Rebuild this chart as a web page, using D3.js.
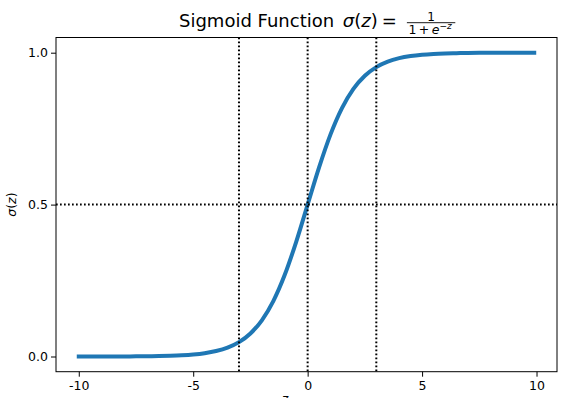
<!DOCTYPE html>
<html>
<head>
<meta charset="utf-8">
<script src="https://cdn.jsdelivr.net/npm/d3@7"></script>
<style>
  html, body { margin: 0; padding: 0; background: #fff; }
  svg { display: block; font-family: 'DejaVu Sans', sans-serif; }
  .axis path, .axis line { stroke: #000; }
  .axis text { fill: #000; }
</style>
</head>
<body>
<svg id="chart" width="575" height="398"></svg>
<script>
const zValues = [-10, -9.5, -9, -8.5, -8, -7.5, -7, -6.5, -6, -5.5, -5, -4.5, -4, -3.5, -3, -2.5, -2, -1.5, -1, -0.5,
  0, 0.5, 1, 1.5, 2, 2.5, 3, 3.5, 4, 4.5, 5, 5.5, 6, 6.5, 7, 7.5, 8, 8.5, 9, 9.5, 9.9];
const sigmaValues = [0.0000, 0.0001, 0.0001, 0.0002, 0.0003, 0.0006, 0.0009, 0.0015, 0.0025, 0.0041, 0.0067, 0.0110,
  0.0180, 0.0293, 0.0474, 0.0759, 0.1192, 0.1824, 0.2689, 0.3775, 0.5, 0.6225, 0.7311, 0.8176, 0.8808, 0.9241,
  0.9526, 0.9707, 0.9820, 0.9890, 0.9933, 0.9959, 0.9975, 0.9985, 0.9991, 0.9994, 0.9997, 0.9998, 0.9999, 0.9999, 1.0];

const vLines = [-3, 0, 3];
const hLines = [0.5];

const xTicks = [-10, -5, 0, 5, 10];
const xTickLabels = ['-10', '-5', '0', '5', '10'];
const yTicks = [0, 0.5, 1];
const yTickLabels = ['0.0', '0.5', '1.0'];

const c = {
  width: 575,
  height: 398,
  margin: { left: 56, right: 18, top: 37.5, bottom: 26.3 },
  color: '#1f77b4',
  fontSize: 12.5,
};

const data = zValues.map((z, i) => ({ z, s: sigmaValues[i] }));

const svg = d3.select('#chart');

// matplotlib style 5% padding around the data
const xPad = (d3.max(zValues) - d3.min(zValues)) * 0.05;
const yPad = (d3.max(sigmaValues) - d3.min(sigmaValues)) * 0.05;

const x = d3.scaleLinear(
  [d3.min(zValues) - xPad, d3.max(zValues) + xPad],
  [c.margin.left, c.width - c.margin.right]
);
const y = d3.scaleLinear(
  [d3.min(sigmaValues) - yPad, d3.max(sigmaValues) + yPad],
  [c.height - c.margin.bottom, c.margin.top]
);

const [x0, x1] = x.range();
const [yb, yt] = y.range();

// curve
const line = d3.line()
  .x((d) => x(d.z))
  .y((d) => y(d.s))
  .curve(d3.curveMonotoneX);

svg.append('path')
  .datum(data)
  .attr('d', line)
  .attr('fill', 'none')
  .attr('stroke', c.color)
  .attr('stroke-width', 4)
  .attr('stroke-linecap', 'square')
  .attr('stroke-linejoin', 'round');

// dotted guides
svg.selectAll('line.vguide')
  .data(vLines)
  .join('line')
  .classed('vguide', true)
  .attr('x1', (d) => x(d))
  .attr('x2', (d) => x(d))
  .attr('y1', yt)
  .attr('y2', yb);

svg.selectAll('line.hguide')
  .data(hLines)
  .join('line')
  .classed('hguide', true)
  .attr('x1', x0)
  .attr('x2', x1)
  .attr('y1', (d) => y(d))
  .attr('y2', (d) => y(d));

svg.selectAll('line.vguide, line.hguide')
  .attr('stroke', '#000')
  .attr('stroke-width', 2)
  .attr('stroke-dasharray', '1.7 2.3');

// axes
const xAxis = d3.axisBottom(x)
  .tickValues(xTicks)
  .tickFormat((d, i) => xTickLabels[i])
  .tickSizeInner(5)
  .tickSizeOuter(0)
  .tickPadding(4);

const yAxis = d3.axisLeft(y)
  .tickValues(yTicks)
  .tickFormat((d, i) => yTickLabels[i])
  .tickSizeInner(5)
  .tickSizeOuter(0)
  .tickPadding(3);

svg.append('g')
  .classed('axis', true)
  .attr('transform', `translate(0,${yb})`)
  .call(xAxis);

svg.append('g')
  .classed('axis', true)
  .attr('transform', `translate(${x0},0)`)
  .call(yAxis);

svg.selectAll('.axis text')
  .attr('font-size', c.fontSize)
  .attr('font-family', 'DejaVu Sans');
svg.selectAll('.axis .domain').remove();

// frame
svg.append('rect')
  .attr('x', x0)
  .attr('y', yt)
  .attr('width', x1 - x0)
  .attr('height', yb - yt)
  .attr('fill', 'none')
  .attr('stroke', '#000')
  .attr('stroke-width', 1);

// y label
const yl = svg.append('text')
  .attr('transform', `translate(16,${(yt + yb) / 2}) rotate(-90)`)
  .attr('text-anchor', 'middle')
  .attr('font-size', c.fontSize)
  .attr('fill', '#000');
yl.append('tspan').attr('font-style', 'italic').text('σ');
yl.append('tspan').text('(');
yl.append('tspan').attr('font-style', 'italic').text('z');
yl.append('tspan').text(')');

// x label, mostly clipped by the bottom edge (as in the original)
svg.append('text')
  .attr('x', 285)
  .attr('y', 403)
  .attr('text-anchor', 'middle')
  .attr('font-size', c.fontSize)
  .attr('font-style', 'italic')
  .attr('fill', '#000')
  .text('z');

// title with fraction
const title = svg.append('g').attr('transform', 'translate(179,26.5)');
const tMain = title.append('text').attr('font-size', 18).attr('fill', '#000');
tMain.append('tspan').text('Sigmoid Function ');
tMain.append('tspan').attr('dx', 3).attr('font-style', 'italic').text('σ');
tMain.append('tspan').text('(');
tMain.append('tspan').attr('font-style', 'italic').text('z');
tMain.append('tspan').text(')');
tMain.append('tspan').attr('dx', 4).text('=');
const wMain = tMain.node().getComputedTextLength() + 7;

const fx = wMain + 10;
const den = title.append('text')
  .attr('x', fx + 1.5)
  .attr('y', 7.5)
  .attr('font-size', 12.5)
  .attr('fill', '#000');
den.append('tspan').text('1');
den.append('tspan').attr('dx', 2.5).text('+');
den.append('tspan').attr('dx', 2.5).attr('font-style', 'italic').text('e');
den.append('tspan').attr('dy', -5).attr('font-size', 9).text('−');
den.append('tspan').attr('font-size', 9).attr('font-style', 'italic').text('z');
const wDen = den.node().getComputedTextLength() + 10;

title.append('line')
  .attr('x1', fx)
  .attr('x2', fx + wDen)
  .attr('y1', -3.8)
  .attr('y2', -3.8)
  .attr('stroke', '#000')
  .attr('stroke-width', 0.9);

title.append('text')
  .attr('x', fx + wDen / 2)
  .attr('y', -5.6)
  .attr('text-anchor', 'middle')
  .attr('font-size', 12)
  .attr('fill', '#000')
  .text('1');
</script>
</body>
</html>
